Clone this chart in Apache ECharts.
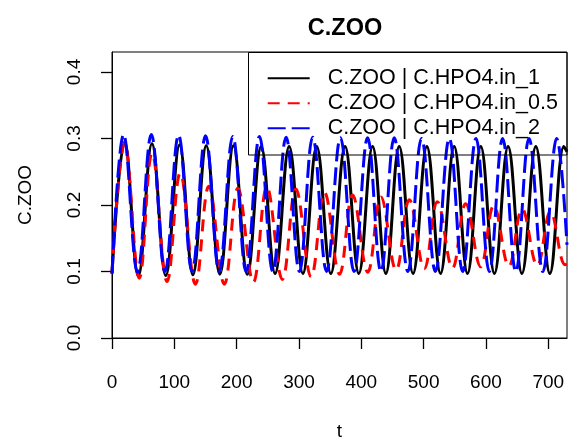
<!DOCTYPE html>
<html>
<head>
<meta charset="utf-8">
<script src="https://cdn.jsdelivr.net/npm/echarts@6/dist/echarts.min.js"></script>
<style>html,body{margin:0;padding:0;background:#fff;}#c{width:569px;height:439px;}</style>
</head>
<body>
<div id="c"></div>
<script>
// ---- data ----
const tTicks = [0, 100, 200, 300, 400, 500, 600, 700];
const yTicks = [0, 0.1, 0.2, 0.3, 0.4];
const seriesNames = ['C.ZOO | C.HPO4.in_1', 'C.ZOO | C.HPO4.in_0.5', 'C.ZOO | C.HPO4.in_2'];

const blackT = [0, 20.3, 42.2, 64.1, 86.3, 108.4, 129.8, 151.2, 173.0, 194.9, 217.1, 239.3, 261.7, 284.2, 306.3, 328.4, 351.1, 373.9, 396.0, 418.1, 439.4, 460.8, 483.0, 505.2, 527.1, 549.0, 570.4, 591.7, 613.6, 635.5, 657.7, 680.0, 702.5, 725.0, 730];
const blackV = [0.097, 0.295, 0.093, 0.292, 0.094, 0.290, 0.095, 0.289, 0.096, 0.289, 0.096, 0.288, 0.097, 0.288, 0.097, 0.288, 0.097, 0.288, 0.097, 0.288, 0.097, 0.288, 0.097, 0.288, 0.097, 0.288, 0.097, 0.288, 0.097, 0.288, 0.097, 0.288, 0.097, 0.288, 0.280];

const redT = [0, 20.3, 43.8, 64.3, 88.4, 109.5, 133.9, 155.3, 180.2, 202.0, 226.8, 248.5, 273.3, 295.0, 319.5, 341.0, 365.0, 386.0, 410.3, 431.5, 455.8, 477.0, 501.0, 522.0, 546.3, 567.5, 591.5, 612.5, 636.8, 658.0, 682.3, 703.5, 727.0, 730];
const redV = [0.097, 0.293, 0.090, 0.278, 0.085, 0.248, 0.081, 0.228, 0.081, 0.225, 0.084, 0.227, 0.088, 0.224, 0.092, 0.219, 0.096, 0.215, 0.099, 0.212, 0.102, 0.208, 0.104, 0.205, 0.105, 0.202, 0.107, 0.199, 0.108, 0.194, 0.109, 0.190, 0.110, 0.111];

const blueT = [0, 18.7, 40.9, 63.1, 85.0, 106.8, 128.5, 150.1, 172.0, 193.8, 215.2, 236.6, 258.0, 279.3, 300.7, 322.0, 344.3, 366.5, 388.3, 410.1, 431.5, 452.8, 474.7, 496.6, 518.9, 541.2, 562.6, 584.0, 605.4, 626.7, 647.9, 669.1, 691.3, 713.4, 730];
const blueV = [0.097, 0.306, 0.099, 0.306, 0.100, 0.305, 0.100, 0.304, 0.100, 0.303, 0.100, 0.303, 0.100, 0.302, 0.100, 0.302, 0.100, 0.301, 0.100, 0.301, 0.100, 0.301, 0.100, 0.300, 0.100, 0.300, 0.100, 0.300, 0.100, 0.300, 0.100, 0.300, 0.100, 0.300, 0.140];

// ---- chart ----
const FONT = '"Liberation Sans", Arial, Helvetica, sans-serif';
const zip = (a, b) => a.map((t, i) => [t, b[i]]);
const chart = echarts.init(document.getElementById('c'), null, {renderer: 'canvas'});

function mkSeries(name, t, v, color, type, width) {
  return {
    name: name, type: 'line', data: zip(t, v), smooth: 0.4,
    symbol: 'none', showSymbol: false, clip: true,
    lineStyle: {color: color, width: width, type: type, cap: 'butt'},
    itemStyle: {color: color}
  };
}

chart.setOption({
  animation: false,
  backgroundColor: '#fff',
  title: {
    text: 'C.ZOO', left: 340, top: 12, textAlign: 'center',
    textStyle: {fontSize: 23.5, fontWeight: 'bold', color: '#000', fontFamily: FONT}
  },
  grid: {left: 112, top: 52, right: 2, bottom: 101, show: true, borderColor: '#000', borderWidth: 1,
    containLabel: false, outerBoundsMode: 'none'},
  xAxis: {
    type: 'value', min: 0, max: 730,
    axisLine: {show: true, onZero: false, lineStyle: {color: '#000', width: 1}},
    axisTick: {show: true, inside: false, length: 11, lineStyle: {color: '#000', width: 1.3}, customValues: tTicks},
    axisLabel: {customValues: tTicks, fontSize: 19, color: '#000', margin: 35, fontFamily: FONT},
    splitLine: {show: false},
    name: 't', nameLocation: 'middle', nameGap: 84,
    nameTextStyle: {fontSize: 19, color: '#000', fontFamily: FONT}
  },
  yAxis: {
    type: 'value', min: 0, max: 0.43,
    axisLine: {show: true, onZero: false, lineStyle: {color: '#000', width: 1}},
    axisTick: {show: true, inside: false, length: 11, lineStyle: {color: '#000', width: 1.3}, customValues: yTicks},
    axisLabel: {customValues: yTicks, rotate: 90, fontSize: 19, color: '#000', margin: 28, fontFamily: FONT,
      formatter: v => Number(v).toFixed(1)},
    splitLine: {show: false},
    name: 'C.ZOO', nameLocation: 'middle', nameGap: 77, nameRotate: 90,
    nameTextStyle: {fontSize: 19, color: '#000', fontFamily: FONT}
  },
  legend: {
    orient: 'vertical', left: 266.7, top: 67.3, padding: 0,
    itemWidth: 42, itemHeight: 22, itemGap: 3,
    data: seriesNames,
    itemStyle: {color: 'rgba(0,0,0,0)', borderColor: 'rgba(0,0,0,0)', borderWidth: 0},
    textStyle: {fontSize: 21.5, color: '#000', fontFamily: FONT, padding: [0, 0, 0, 13]}
  },
  graphic: [{
    type: 'rect', shape: {x: 248.5, y: 52.5, width: 318.5, height: 102.5},
    style: {fill: 'none', stroke: '#000', lineWidth: 1}, z: 100, silent: true
  }],
  series: [
    mkSeries(seriesNames[0], blackT, blackV, '#000000', 'solid', 3),
    mkSeries(seriesNames[1], redT, redV, '#ff0000', [12, 8], 3),
    mkSeries(seriesNames[2], blueT, blueV, '#0000ff', [18, 6], 3)
  ]
});
</script>
</body>
</html>
